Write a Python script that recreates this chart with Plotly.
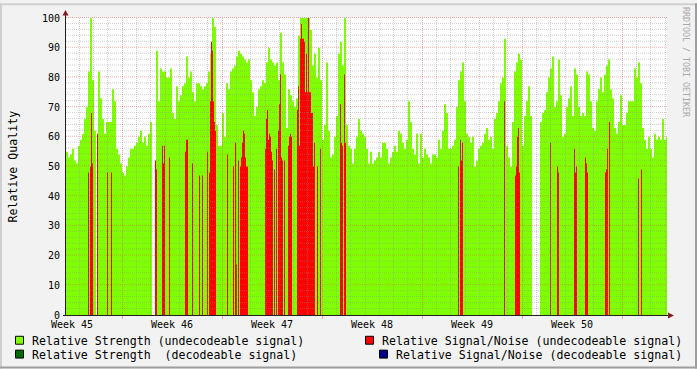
import plotly.graph_objects as go

# ---------------- data ----------------
STEP_H = 1.68          # hours per archive row (one pixel column)
ROWS = 601             # rows shown in the graph

# Relative strength (undecodeable signal), one value per 2 rows
strength_undec = (
    [55, 53, 54, 56, 52, 51, 57, 59, 61, 66,
     70, 82, 100, 79, 62, None, 82, 73, 66, 61,
     65, 65, 65, 76, 72, 56, 54, 51, 48, 47,
     50, 53, 56, 56, 57, 58, 60, 62, 58, 60,
     57, 61, 65, None, None, 89, 72, 83, 82, 82,
     80, 80, 83]
    + [68, 66, 77, 72, 74, 77, 78, 87, 80, 82,
       75, 72, 78, 78, 77, 76, 77, 78, 82, 88,
       100, 97, 64, 57, 57, 68, 60, 78, 76, 82,
       83, 84, 87, 89, 88, 87, 86, 85, 86, 79,
       75, 67, 70, 76, 77, 79, 78, 85, 90, 86]
    + [85, 84, 85, 79, 95, 85, 81, 63, 76, 74,
       72, 70, 73, 94, 100, 100, 100, 100, 100, 96,
       84, 88, 80, 90, 79, 59, 64, 85, 62, 53,
       54, 60, 67, 88, 92, 84, 100, 64, 57, 56,
       51, 56, 60, 66, 62, 61, 60, 56, 51, 55]
    + [51, 52, 53, 55, 53, 58, 58, 56, 51, 53,
       55, 57, 55, 62, 61, 58, 56, 59, 72, 65,
       56, 54, 61, 51, 61, 53, 56, 54, 53, 51,
       54, 54, 53, 59, 56, 62, 71, 68, 56, 56,
       57, 59, 70, 79, 82, 85, 72, 61, 60, 58]
    + [60, 50, 52, 56, 57, 58, 61, 63, 59, 60,
       56, 66, 68, 72, 78, 80, 93, 57, 53, 50,
       65, 82, 85, 88, 86, 57, 67, 72, 77, 67,
       None, None, None, None, 65, 68, 69, 75, 80, 83,
       87, 70, 72, 86, 74, 60, 61, 70, 73, 77]
    + [67, 83, 81, 70, 67, 68, 67, 82, 81, 72,
       63, 62, 72, 76, 80, 75, 81, 84, 86, 76,
       73, 63, 61, 65, 74, 64, 64, 68, 72, 72,
       72, 83, 80, 85, 78, 63, 59, 56, 60, 56,
       53, 61, 59, 60, 59, 66, 59, 60]
)

# Relative signal/noise (undecodeable signal): archive row index and value
sn_undec_rows = [22, 24, 25, 26, 31, 41, 45, 89, 90, 96, 97, 98, 103,
                 119, 120, 121, 126, 133, 136, 141, 143, 144, 145, 146, 147, 148, 149,
                 161, 167, 169, 170, 172, 174, 175, 176, 177, 178, 179, 180, 181,
                 199, 200, 201, 202, 203, 204, 205, 206, 208, 210, 212, 213, 214, 215,
                 216, 218, 222, 223, 224, 225,
                 231, 232, 233, 234, 235, 236, 237, 238, 239, 240, 241, 242, 243, 244,
                 245, 246, 247, 248, 251, 254, 274, 275, 276, 278, 279,
                 392, 394, 395, 396, 438, 449, 450, 451, 452, 453, 484, 491, 492,
                 508, 509, 510, 519, 520, 521, 539, 540, 541, 543, 572, 575]
sn_undec_vals = [48, 50, 68, 51, 61, 48, 48, 52, 49, 57, 51, 57, 53,
                 55, 59, 59, 51, 47, 47, 55, 48, 72, 92, 89, 72, 65, 62,
                 54, 50, 58, 17, 52, 50, 53, 58, 62, 61, 53, 50, 50,
                 56, 66, 69, 59, 61, 60, 55, 52, 49, 56, 62, 71, 81, 53,
                 52, 52, 57, 60, 61, 60,
                 69, 77, 57, 93, 98, 93, 93, 92, 75, 88, 75, 100, 75, 75,
                 68, 68, 50, 58, 50, 56, 71, 58, 57, 81, 58,
                 50, 59, 52, 58, 72, 47, 50, 60, 63, 48, 58, 50, 48,
                 56, 48, 50, 53, 51, 48, 48, 49, 56, 65, 46, 49]

# decodeable series: no samples in this period
strength_dec_rows, strength_dec_vals = [], []
sn_dec_rows, sn_dec_vals = [], []

week_labels = ["Week 45", "Week 46", "Week 47", "Week 48", "Week 49", "Week 50"]
FIRST_MIDNIGHT_H = -2.4      # first local midnight relative to graph start (h)
FIRST_WEEK_START_H = 93.6    # first Monday 00:00 inside the graph (h)

y_major = list(range(0, 101, 10))
y_minor = [v for v in range(2, 100, 2) if v % 10]

legend_items = [
    ("Relative Strength (undecodeable signal)", "#80FF00"),
    ("Relative Signal/Noise (undecodeable signal)", "#FF0000"),
    ("Relative Strength  (decodeable signal)", "#006A00"),
    ("Relative Signal/Noise (decodeable signal)", "#00008C"),
]

# ---------------- colours / geometry ----------------
W, H = 697, 369
L, R, T, B = 66, 667, 15, 315
MONO = "DejaVu Sans Mono"
C_BACK = "#F2F2F2"
C_SHADEA = "#CFCFCF"
C_SHADEB = "#9E9E9E"
C_GRID = "rgba(143,143,143,0.42)"
C_MGRID = "rgba(222,79,79,0.45)"
C_ARROW = "#801F1F"
C_AXIS = "#1F1F1F"
x_max = ROWS * STEP_H


def px(x):
    return (x - L) / (R - L)


def py(y):
    return (B - y) / (B - T)


def step_area(starts, width, values):
    """Outline of adjacent rectangular columns (rrdtool AREA) for a filled scatter."""
    xs, ys = [], []
    prev_end = None
    for s, v in zip(starts, values):
        if v is None:
            continue
        e = s + width
        if prev_end is None or abs(s - prev_end) > 1e-9:
            if prev_end is not None:
                xs.append(prev_end)
                ys.append(0)
            xs.append(s)
            ys.append(0)
        xs += [s, e]
        ys += [v, v]
        prev_end = e
    if prev_end is not None:
        xs.append(prev_end)
        ys.append(0)
    return xs, ys


fig = go.Figure()
series = [
    ([i * 2 * STEP_H for i in range(len(strength_undec))], 2 * STEP_H, strength_undec, "#80FF00"),
    ([r * STEP_H for r in strength_dec_rows], STEP_H, strength_dec_vals, "#006A00"),
    ([r * STEP_H for r in sn_undec_rows], STEP_H, sn_undec_vals, "#FF0000"),
    ([r * STEP_H for r in sn_dec_rows], STEP_H, sn_dec_vals, "#00008C"),
]
for starts, w, vals, col in series:
    xs, ys = step_area(starts, w, vals)
    fig.add_trace(go.Scatter(x=xs, y=ys, mode="lines", fill="tozeroy", fillcolor=col,
                             line=dict(width=0, color=col), showlegend=False,
                             hoverinfo="skip"))

shapes = []
DASH = "1px,1px"


def hline_y(v):
    # pixel-centred horizontal grid line
    return py(round(B - (B - T) * v / 100.0) - 0.5)


def vline_x(t):
    return px(round(L + t / STEP_H) + 0.5)


for v in y_minor:
    y = hline_y(v)
    shapes.append(dict(type="line", xref="paper", yref="paper", x0=0, x1=1, y0=y, y1=y,
                       line=dict(color=C_GRID, width=1, dash=DASH), layer="above"))
for v in y_major[1:]:
    y = hline_y(v)
    shapes.append(dict(type="line", xref="paper", yref="paper", x0=0, x1=1, y0=y, y1=y,
                       line=dict(color=C_MGRID, width=1, dash=DASH), layer="above"))
t = FIRST_MIDNIGHT_H
while t < x_max:
    if t > 0:
        k = (t - FIRST_WEEK_START_H) / 168.0
        major = abs(k - round(k)) < 1e-6
        x = vline_x(t)
        shapes.append(dict(type="line", xref="paper", yref="paper", x0=x, x1=x, y0=0, y1=1,
                           line=dict(color=C_MGRID if major else C_GRID, width=1, dash=DASH),
                           layer="above"))
        if major:
            shapes.append(dict(type="line", xref="paper", yref="paper", x0=x, x1=x,
                               y0=py(316), y1=py(319),
                               line=dict(color=C_MGRID, width=1), layer="above"))
    t += 24.0

# axes + arrows
shapes.append(dict(type="line", xref="paper", yref="paper", x0=px(65.5), x1=px(65.5),
                   y0=py(315.5), y1=py(11), line=dict(color=C_AXIS, width=1), layer="above"))
shapes.append(dict(type="line", xref="paper", yref="paper", x0=px(63), x1=px(669),
                   y0=py(315.5), y1=py(315.5), line=dict(color=C_AXIS, width=1), layer="above"))
shapes.append(dict(type="path", xref="paper", yref="paper",
                   path=f"M {px(62.5)},{py(12.5)} L {px(68.5)},{py(12.5)} L {px(65.5)},{py(7)} Z",
                   fillcolor=C_ARROW, line=dict(width=0), layer="above"))
shapes.append(dict(type="path", xref="paper", yref="paper",
                   path=f"M {px(668)},{py(312.5)} L {px(668)},{py(318.5)} L {px(674)},{py(315.5)} Z",
                   fillcolor=C_ARROW, line=dict(width=0), layer="above"))

# frame (3D shade)
for x0, x1, y0, y1, c in [(0, W, 0, 2, C_SHADEA), (0, 2, 0, H, C_SHADEA),
                          (W - 2, W, 0, H, C_SHADEB), (0, W, H - 2, H, C_SHADEB)]:
    shapes.append(dict(type="rect", xref="paper", yref="paper", x0=px(x0), x1=px(x1),
                       y0=py(y0), y1=py(y1), fillcolor=c, line=dict(width=0), layer="below"))

annotations = []
for k, lab in enumerate(week_labels):
    annotations.append(dict(text=lab, xref="x", yref="paper",
                            x=FIRST_WEEK_START_H - 84 + 168 * k, y=py(324.5),
                            showarrow=False, xanchor="center", yanchor="middle",
                            font=dict(family=MONO, size=10, color="#000")))
annotations.append(dict(text="Relative Quality", xref="paper", yref="paper",
                        x=px(12), y=py(165), textangle=-90, showarrow=False,
                        xanchor="center", yanchor="middle",
                        font=dict(family=MONO, size=11.6, color="#000")))
annotations.append(dict(text="RRDTOOL / TOBI OETIKER", xref="paper", yref="paper",
                        x=px(686.5), y=py(59), textangle=90, showarrow=False,
                        xanchor="center", yanchor="middle",
                        font=dict(family=MONO, size=8.3, color="#A8A8A8")))

legend_pos = [(16, 341, 30), (366, 341, 380), (16, 355, 30), (380, 355, 394)]
for (label, col), (sx, cy, tx) in zip(legend_items, legend_pos):
    shapes.append(dict(type="rect", xref="paper", yref="paper",
                       x0=px(sx - 0.5), x1=px(sx + 7.5), y0=py(cy - 4.5), y1=py(cy + 3.5),
                       fillcolor=col, line=dict(color="#000", width=1), layer="above"))
    annotations.append(dict(text=label.replace("  ", "&nbsp; "), xref="paper", yref="paper",
                            x=px(tx), y=py(cy), showarrow=False,
                            xanchor="left", yanchor="middle",
                            font=dict(family=MONO, size=11.6, color="#000")))

fig.update_layout(
    width=W, height=H,
    margin=dict(l=L, r=W - R, t=T, b=H - B, pad=0),
    paper_bgcolor=C_BACK, plot_bgcolor="#FFFFFF",
    showlegend=False,
    shapes=shapes, annotations=annotations,
    xaxis=dict(range=[0, x_max], showgrid=False, zeroline=False, showline=False,
               showticklabels=False, ticks="", fixedrange=True),
    yaxis=dict(range=[0, 100], tickvals=y_major, showgrid=False, zeroline=False,
               showline=False, ticks="", ticklabelstandoff=5,
               tickfont=dict(family=MONO, size=10, color="#000"), fixedrange=True),
)

fig.write_html("out.html", config={"displayModeBar": False})
